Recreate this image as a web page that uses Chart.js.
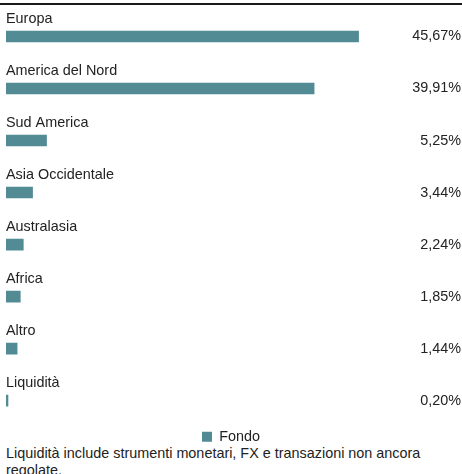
<!DOCTYPE html>
<html>
<head>
<meta charset="utf-8">
<script src="https://cdn.jsdelivr.net/npm/chart.js@4/dist/chart.umd.min.js"></script>
<style>
  body { margin: 0; background: #ffffff; font-family: "Liberation Sans", Arial, sans-serif; color: #222222; overflow: hidden; }
  .rule { margin-top: 3px; border-top: 2px solid #1a1a1a; width: 462px; }
  .wrap { position: relative; width: 462px; height: 449px; }
  .note { width: 440px; padding-left: 6px; font-size: 14.4px; line-height: 17px; margin-top: -9px; }
</style>
</head>
<body>
<div class="rule"></div>
<div class="wrap"><canvas id="chart"></canvas></div>
<div class="note">Liquidità include strumenti monetari, FX e transazioni non ancora regolate.</div>
<script>
// Region breakdown (percent of fund)
const regions = ['Europa', 'America del Nord', 'Sud America', 'Asia Occidentale', 'Australasia', 'Africa', 'Altro', 'Liquidità'];
const fondo = [45.67, 39.91, 5.25, 3.44, 2.24, 1.85, 1.44, 0.20];
const seriesName = 'Fondo';
const barColor = '#528b94';
const textColor = '#222222';
const fontFamily = '"Liberation Sans", Arial, sans-serif';

function formatPct(v) {
  return v.toFixed(2).replace('.', ',') + '%';
}

// invisible axis that only reserves horizontal room
function spacer(position, width) {
  return {
    type: 'category',
    position: position,
    display: true,
    ticks: { display: false },
    grid: { display: false },
    border: { display: false },
    afterFit(scale) { scale.width = width; }
  };
}

// Draw category name above each bar and the value on the right edge
const rowText = {
  id: 'rowText',
  afterDatasetsDraw(chart) {
    const ctx = chart.ctx;
    const meta = chart.getDatasetMeta(0);
    const area = chart.chartArea;
    ctx.save();
    ctx.font = '14.4px ' + fontFamily;
    ctx.fillStyle = textColor;
    ctx.textBaseline = 'middle';
    meta.data.forEach((bar, i) => {
      ctx.textAlign = 'left';
      ctx.fillText(regions[i], area.left, bar.y - 17.5);
      ctx.textAlign = 'right';
      ctx.fillText(formatPct(fondo[i]), chart.width - 1, bar.y);
    });
    ctx.restore();
  }
};

const ctx = document.getElementById('chart').getContext('2d');
new Chart(ctx, {
  type: 'bar',
  data: {
    labels: regions,
    datasets: [{
      label: seriesName,
      data: fondo,
      backgroundColor: barColor,
      borderWidth: 0,
      barThickness: 11,
      minBarLength: 2
    }]
  },
  options: {
    indexAxis: 'y',
    responsive: true,
    maintainAspectRatio: false,
    animation: false,
    layout: {
      padding: { left: 0, right: 0, top: 5.5, bottom: 0 }
    },
    scales: {
      x: { display: false, min: 0, max: 50 },
      y: spacer('left', 6),
      gap: spacer('right', 70)
    },
    plugins: {
      legend: {
        display: true,
        position: 'bottom',
        labels: {
          color: textColor,
          boxWidth: 10,
          boxHeight: 10,
          padding: 3,
          font: { family: fontFamily, size: 14.4 }
        }
      },
      tooltip: { enabled: false }
    }
  },
  plugins: [rowText]
});
</script>
</body>
</html>
